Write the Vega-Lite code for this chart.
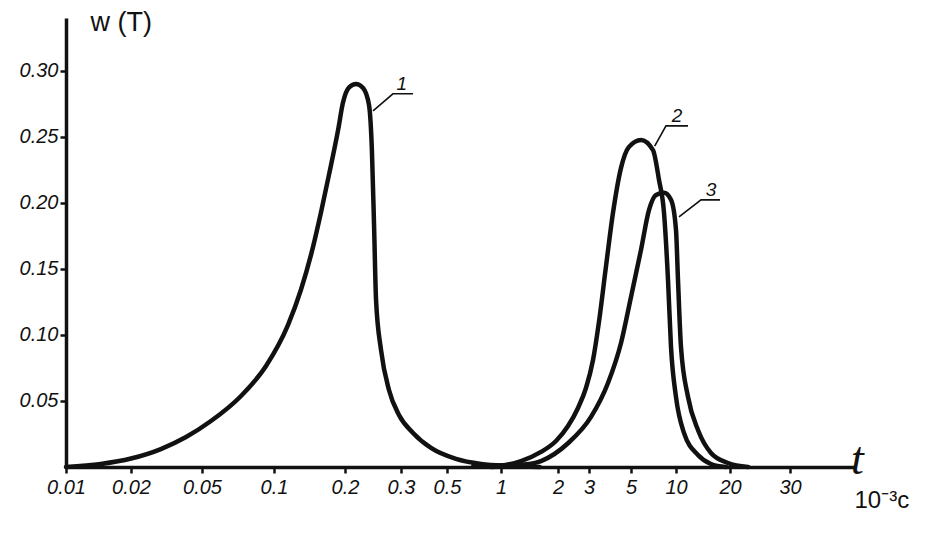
{
  "$schema": "https://vega.github.io/schema/vega-lite/v6.json",
  "width": 788,
  "height": 449,
  "autosize": "none",
  "padding": {"left": 66, "top": 18, "right": 83, "bottom": 69},
  "background": "white",
  "config": {
    "view": {"stroke": null},
    "axis": {
      "grid": false,
      "domainColor": "#111111",
      "tickColor": "#111111",
      "labelColor": "#111111",
      "titleColor": "#111111",
      "labelFont": "Liberation Sans",
      "labelFontStyle": "italic",
      "labelFontSize": 20,
      "titleFont": "Liberation Sans",
      "titleFontWeight": "normal"
    }
  },
  "datasets": {
    "curves": [
      {"curve": "1", "t": 0.01, "w": 0},
      {"curve": "1", "t": 0.0145, "w": 0.0023},
      {"curve": "1", "t": 0.02, "w": 0.0064},
      {"curve": "1", "t": 0.0294, "w": 0.0136},
      {"curve": "1", "t": 0.0407, "w": 0.0227},
      {"curve": "1", "t": 0.0545, "w": 0.0348},
      {"curve": "1", "t": 0.0728, "w": 0.0538},
      {"curve": "1", "t": 0.0926, "w": 0.0765},
      {"curve": "1", "t": 0.1147, "w": 0.1076},
      {"curve": "1", "t": 0.13, "w": 0.134},
      {"curve": "1", "t": 0.1435, "w": 0.1606},
      {"curve": "1", "t": 0.158, "w": 0.1924},
      {"curve": "1", "t": 0.171, "w": 0.2212},
      {"curve": "1", "t": 0.187, "w": 0.2553},
      {"curve": "1", "t": 0.196, "w": 0.2758},
      {"curve": "1", "t": 0.206, "w": 0.2875},
      {"curve": "1", "t": 0.2166, "w": 0.29},
      {"curve": "1", "t": 0.228, "w": 0.287},
      {"curve": "1", "t": 0.238, "w": 0.274},
      {"curve": "1", "t": 0.243, "w": 0.24},
      {"curve": "1", "t": 0.247, "w": 0.18},
      {"curve": "1", "t": 0.2504, "w": 0.1265},
      {"curve": "1", "t": 0.2596, "w": 0.0886},
      {"curve": "1", "t": 0.275, "w": 0.0583},
      {"curve": "1", "t": 0.2956, "w": 0.0394},
      {"curve": "1", "t": 0.343, "w": 0.0258},
      {"curve": "1", "t": 0.4186, "w": 0.0144},
      {"curve": "1", "t": 0.561, "w": 0.0061},
      {"curve": "1", "t": 0.774, "w": 0.0023},
      {"curve": "1", "t": 1.129, "w": 0.0008},
      {"curve": "1", "t": 1.6, "w": 0},
      {"curve": "2", "t": 0.7, "w": 0.0005},
      {"curve": "2", "t": 1, "w": 0.0012},
      {"curve": "2", "t": 1.275, "w": 0.0045},
      {"curve": "2", "t": 1.627, "w": 0.0114},
      {"curve": "2", "t": 1.952, "w": 0.0197},
      {"curve": "2", "t": 2.28, "w": 0.031},
      {"curve": "2", "t": 2.598, "w": 0.0447},
      {"curve": "2", "t": 2.884, "w": 0.0598},
      {"curve": "2", "t": 3.15, "w": 0.081},
      {"curve": "2", "t": 3.387, "w": 0.11},
      {"curve": "2", "t": 3.689, "w": 0.152},
      {"curve": "2", "t": 4.016, "w": 0.1924},
      {"curve": "2", "t": 4.428, "w": 0.2265},
      {"curve": "2", "t": 4.879, "w": 0.2424},
      {"curve": "2", "t": 5.833, "w": 0.2477},
      {"curve": "2", "t": 7.015, "w": 0.24},
      {"curve": "2", "t": 7.696, "w": 0.2174},
      {"curve": "2", "t": 8.315, "w": 0.1924},
      {"curve": "2", "t": 8.842, "w": 0.1417},
      {"curve": "2", "t": 9.259, "w": 0.0909},
      {"curve": "2", "t": 10, "w": 0.053},
      {"curve": "2", "t": 11.08, "w": 0.0258},
      {"curve": "2", "t": 13.26, "w": 0.0091},
      {"curve": "2", "t": 15.67, "w": 0.0023},
      {"curve": "2", "t": 19, "w": 0},
      {"curve": "3", "t": 0.879, "w": 0},
      {"curve": "3", "t": 1.275, "w": 0.0015},
      {"curve": "3", "t": 1.627, "w": 0.0045},
      {"curve": "3", "t": 2.28, "w": 0.018},
      {"curve": "3", "t": 3.074, "w": 0.0379},
      {"curve": "3", "t": 3.78, "w": 0.0636},
      {"curve": "3", "t": 4.428, "w": 0.0939},
      {"curve": "3", "t": 5, "w": 0.1288},
      {"curve": "3", "t": 5.833, "w": 0.1644},
      {"curve": "3", "t": 6.6, "w": 0.1947},
      {"curve": "3", "t": 7.35, "w": 0.206},
      {"curve": "3", "t": 8.315, "w": 0.2076},
      {"curve": "3", "t": 9.259, "w": 0.2023},
      {"curve": "3", "t": 10, "w": 0.1795},
      {"curve": "3", "t": 10.26, "w": 0.1417},
      {"curve": "3", "t": 10.66, "w": 0.0909},
      {"curve": "3", "t": 11.67, "w": 0.053},
      {"curve": "3", "t": 13.26, "w": 0.028},
      {"curve": "3", "t": 15.67, "w": 0.0106},
      {"curve": "3", "t": 19.5, "w": 0.003},
      {"curve": "3", "t": 22.6, "w": 0}
    ],
    "leaders": [
      {"lbl": "1", "ord": 0, "t": 0.245, "w": 0.2697},
      {"lbl": "1", "ord": 1, "t": 0.283, "w": 0.2826},
      {"lbl": "1", "ord": 2, "t": 0.343, "w": 0.2826},
      {"lbl": "2", "ord": 0, "t": 7.2, "w": 0.243},
      {"lbl": "2", "ord": 1, "t": 8.57, "w": 0.2583},
      {"lbl": "2", "ord": 2, "t": 11.67, "w": 0.2583},
      {"lbl": "3", "ord": 0, "t": 10.39, "w": 0.1894},
      {"lbl": "3", "ord": 1, "t": 13.79, "w": 0.2023},
      {"lbl": "3", "ord": 2, "t": 17.59, "w": 0.2023}
    ],
    "labels": [
      {"text": "1", "t": 0.303, "w": 0.2826},
      {"text": "2", "t": 10.13, "w": 0.2583},
      {"text": "3", "t": 15.67, "w": 0.2023}
    ]
  },
  "encoding": {
    "x": {
      "field": "t",
      "type": "quantitative",
      "scale": {
        "type": "log",
        "domain": [0.01, 0.02, 0.05, 0.1, 0.2, 0.3, 0.5, 1, 2, 3, 5, 10, 20, 30, 55],
        "range": [0, 65, 136, 208, 279, 335, 381, 435, 492, 523, 565, 610, 664, 724, 788],
        "nice": false
      },
      "axis": {
        "values": [0.01, 0.02, 0.05, 0.1, 0.2, 0.3, 0.5, 1, 2, 3, 5, 10, 20, 30, 55],
        "format": "~g",
        "labelExpr": "datum.value == 55 ? '10⁻³с' : datum.label",
        "labelOverlap": false,
        "labelFlush": false,
        "domainWidth": 3.5,
        "tickWidth": 2.5,
        "tickSize": 6,
        "tickOpacity": {"condition": {"test": "datum.value == 55", "value": 0}, "value": 1},
        "labelPadding": {"condition": {"test": "datum.value == 55", "value": 15}, "value": 4},
        "labelAlign": {"condition": {"test": "datum.value == 55", "value": "left"}, "value": "center"},
        "labelFontStyle": {"condition": {"test": "datum.value == 55", "value": "normal"}, "value": "italic"},
        "labelFontSize": {"condition": {"test": "datum.value == 55", "value": 24}, "value": 20},
        "title": "t",
        "titleFont": "Liberation Serif",
        "titleFontStyle": "italic",
        "titleFontSize": 46,
        "titleX": 791,
        "titleY": 6,
        "titleAlign": "center",
        "titleBaseline": "alphabetic"
      }
    },
    "y": {
      "field": "w",
      "type": "quantitative",
      "scale": {"domain": [0, 0.34], "nice": false, "zero": true},
      "axis": {
        "values": [0.05, 0.1, 0.15, 0.2, 0.25, 0.3],
        "format": ".2f",
        "domainWidth": 3.5,
        "tickWidth": 2.5,
        "tickSize": 6,
        "labelPadding": 2,
        "title": "w (T)",
        "titleAngle": 0,
        "titleX": 24,
        "titleY": 12,
        "titleAlign": "left",
        "titleBaseline": "alphabetic",
        "titleFontSize": 27
      }
    }
  },
  "layer": [
    {
      "data": {"name": "curves"},
      "mark": {"type": "line", "interpolate": "monotone", "strokeWidth": 4.5, "color": "#111111", "strokeCap": "round", "strokeJoin": "round"},
      "encoding": {"detail": {"field": "curve"}}
    },
    {
      "data": {"name": "leaders"},
      "mark": {"type": "line", "strokeWidth": 1.6, "color": "#111111"},
      "encoding": {"detail": {"field": "lbl"}, "order": {"field": "ord", "type": "quantitative"}}
    },
    {
      "data": {"name": "labels"},
      "mark": {"type": "text", "font": "Liberation Sans", "fontStyle": "italic", "fontSize": 19, "baseline": "bottom", "color": "#111111"},
      "encoding": {"text": {"field": "text"}}
    }
  ]
}
